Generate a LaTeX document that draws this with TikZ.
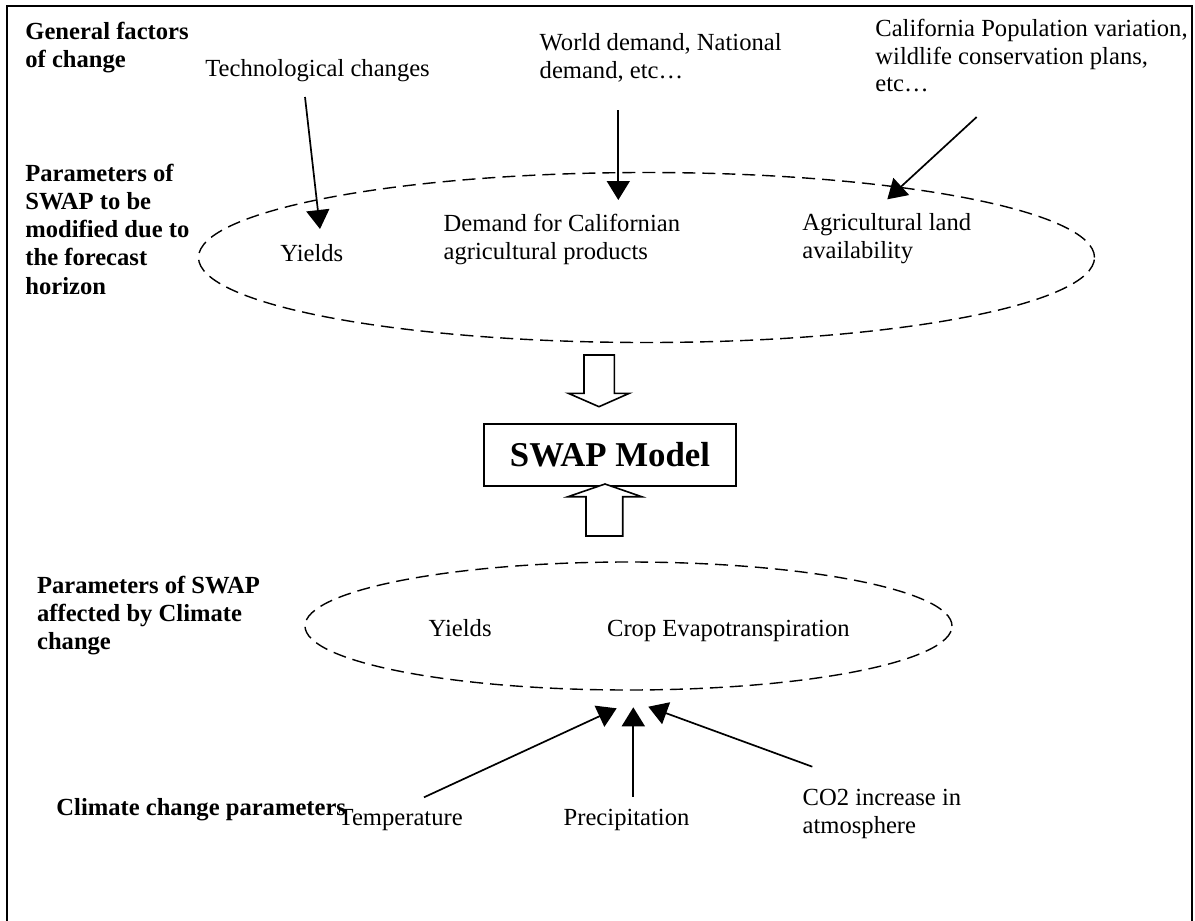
\documentclass[tikz,border=0pt]{standalone}
\usepackage{fontspec}
\setmainfont{Liberation Serif}
\usetikzlibrary{arrows.meta,shapes.geometric}
\newcommand{\mylines}[1]{\begin{tabular}[t]{@{}l@{}}#1\end{tabular}}
\begin{document}
\begin{tikzpicture}[x=0.5pt,y=-0.5pt,
  txt/.style={anchor=base west,inner sep=0pt,font=\fontsize{12.3}{14}\selectfont},
  hd/.style={anchor=base west,inner sep=0pt,font=\fontsize{12.3}{14.1}\selectfont\bfseries},
  dashell/.style={ellipse,draw,dash pattern=on 6.5pt off 3.5pt,line width=0.7pt,inner sep=0pt},
  conn/.style={-{Triangle[length=9.5pt,width=11.5pt]},line width=0.85pt},
  blockarrow/.style={draw,line width=0.8pt,fill=white,line join=miter},
  modelbox/.style={draw,line width=0.85pt,inner sep=0pt,minimum width=126pt,minimum height=30.85pt,font=\fontsize{17.4}{20}\selectfont\bfseries}
]
\useasboundingbox (0,0) rectangle (1195,921);
% frame (open at bottom)
\draw[line width=1.2pt] (7,921) -- (7,6) -- (1192,6) -- (1192,921);

% ellipses
\node[dashell,minimum width=448pt,minimum height=85pt] (topell) at (646.5,257.5) {};
\node[dashell,minimum width=323.5pt,minimum height=64pt] (botell) at (628.5,626) {};

% model box
\node[modelbox] (swap) at (610,454.85) {SWAP Model};

% block arrows
\draw[blockarrow] (584,355) -- (614.3,355) -- (614.3,393.3) -- (629.3,393.3) -- (599,406.7) -- (568.3,393.3) -- (584,393.3) -- cycle;
\draw[blockarrow] (586,536) -- (622.7,536) -- (622.7,496.7) -- (641.7,496.7) -- (605,484) -- (568,496.7) -- (586,496.7) -- cycle;

% headings
\node[hd] (h1) at (25,39.3) {\mylines{General factors\\of change}};
\node[hd] (h2) at (25,181.2) {\mylines{Parameters of\\SWAP to be\\modified due to\\the forecast\\horizon}};
\node[hd] (h3) at (36.7,593.3) {\mylines{Parameters of SWAP\\affected by Climate\\change}};
\node[hd] (h4) at (56,815) {Climate change parameters};

% top texts
\node[txt] (tech) at (205,76.7) {Technological changes};
\node[txt] (world) at (539.3,50.7) {\mylines{World demand, National\\demand, etc…}};
\node[txt] (calif) at (875,36) {\mylines{California Population variation,\\wildlife conservation plans,\\etc…}};

% top ellipse texts
\node[txt] (yields1) at (280,261.7) {Yields};
\node[txt] (demand) at (443.3,231.7) {\mylines{Demand for Californian\\agricultural products}};
\node[txt] (land) at (802,230) {\mylines{Agricultural land\\availability}};

% bottom ellipse texts
\node[txt] (yields2) at (428.3,636.7) {Yields};
\node[txt] (crop) at (606.7,636.7) {Crop Evapotranspiration};

% climate texts
\node[txt] (temp) at (338.3,825) {Temperature};
\node[txt] (prec) at (563.3,825) {Precipitation};
\node[txt] (co2) at (802.3,805) {\mylines{CO2 increase in\\atmosphere}};

% connector end points
\coordinate (t1s) at (305,97);   \coordinate (t1e) at (320,229);
\coordinate (t2s) at (618.3,110); \coordinate (t2e) at (618.3,200);
\coordinate (t3s) at (976.7,117); \coordinate (t3e) at (887.3,199.3);
\coordinate (b1s) at (424,797.3); \coordinate (b1e) at (616.7,708.3);
\coordinate (b2s) at (633.3,796.7); \coordinate (b2e) at (633.3,707.3);
\coordinate (b3s) at (812.3,766.7); \coordinate (b3e) at (648.3,706.7);

\draw[conn] (t1s) -- (t1e);
\draw[conn] (t2s) -- (t2e);
\draw[conn] (t3s) -- (t3e);
\draw[conn] (b1s) -- (b1e);
\draw[conn] (b2s) -- (b2e);
\draw[conn] (b3s) -- (b3e);
\end{tikzpicture}
\end{document}
